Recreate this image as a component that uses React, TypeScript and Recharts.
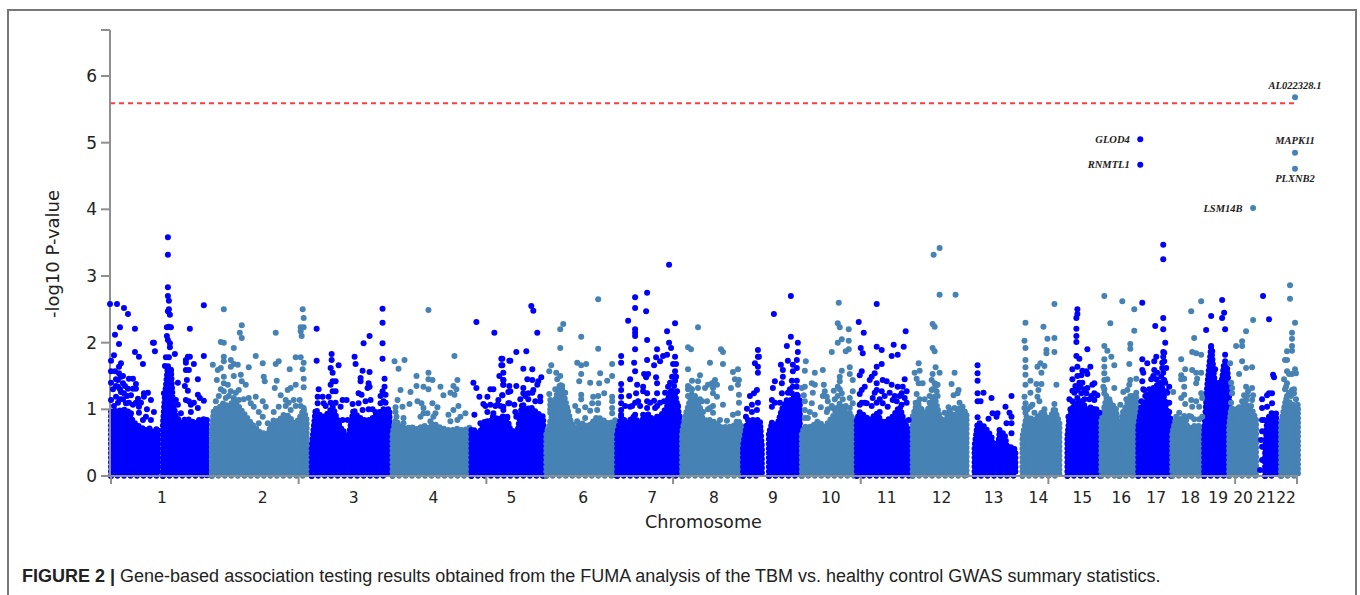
import React from "react";
import { ComposedChart, Area, Line, Scatter, XAxis, YAxis, ReferenceLine, LabelList } from "recharts";

type P = number[];
const BLUE = "#0000ff";
const STEEL = "#4682b4";

// Dense mass envelopes: [genome position, upper -log10 P]
const mass: { color: string; pts: P[] }[] = [
  { color: BLUE, pts: [[0,.97],[8,.98],[15,1.0],[18,.95],[22,.82],[26,.76],[30,.74],[34,.68],[38,.72],[42,.66],[47,.72]] },
  { color: BLUE, pts: [[52,.78],[54,1.2],[57,1.65],[60,1.6],[62,1.1],[65,.9],[70,.8],[75,.86],[80,.84],[84,.78],[88,.84],[96,.86]] },
  { color: STEEL, pts: [[101,.68],[103,1.0],[108,1.02],[113,1.1],[118,1.02],[123,1.15],[130,1.0],[135,.9],[140,.8],[145,.72],[150,.64],[157,.64],[163,.84],[168,.82],[173,.92],[178,.9],[183,.8],[188,.84],[193,1.0],[196,.84]] },
  { color: BLUE, pts: [[201,.44],[205,1.0],[209,.92],[213,.89],[218,.95],[222,1.04],[228,.79],[233,.64],[238,.59],[243,1.0],[247,.89],[254,.84],[260,.84],[267,.94],[273,1.0],[279,1.0]] },
  { color: STEEL, pts: [[282,.64],[285,.84],[290,.74],[295,.7],[300,.74],[307,.7],[313,.76],[318,.72],[323,.79],[328,.74],[333,.71],[340,.68],[347,.71],[353,.68],[359,.73]] },
  { color: BLUE, pts: [[361,.71],[369,.64],[375,.84],[379,.8],[383,.9],[388,.84],[392,.9],[398,.8],[400,.69],[407,.65],[412,1.09],[416,.98],[420,1.04],[427,.94],[433,.89]] },
  { color: STEEL, pts: [[436,.64],[440,.79],[445,1.14],[450,1.39],[455,1.14],[460,.84],[465,.71],[472,.79],[478,.74],[483,.82],[487,.89],[493,.84],[499,.78],[505,.84]] },
  { color: BLUE, pts: [[507,.64],[511,.89],[517,.79],[523,.89],[530,.79],[537,.94],[543,.84],[550,.89],[557,1.04],[560,1.29],[565,1.24],[570,.84]] },
  { color: STEEL, pts: [[572,.64],[575,.89],[582,1.24],[588,1.09],[593,.84],[600,.84],[607,.79],[612,.72],[617,.74],[623,.74],[628,.84],[632,.74]] },
  { color: BLUE, pts: [[633,.44],[637,.79],[643,.84],[650,.84],[652,.44]] },
  { color: BLUE, pts: [[659,.64],[662,.79],[667,.74],[672,1.0],[677,1.14],[683,1.14],[690,1.14]] },
  { color: STEEL, pts: [[692,.64],[695,.74],[702,.74],[708,.82],[715,.74],[723,.89],[730,1.09],[737,.94],[746,.84]] },
  { color: BLUE, pts: [[747,.84],[750,.96],[755,.9],[760,.84],[767,.94],[773,.79],[778,.84],[783,.89],[790,1.04],[795,.79],[802,.64]] },
  { color: STEEL, pts: [[803,.89],[808,1.12],[813,.89],[820,1.04],[825,1.19],[830,.89],[835,.74],[840,1.0],[845,.84],[850,1.04],[857,.94]] },
  { color: BLUE, pts: [[865,.44],[868,.79],[875,.74],[882,.59],[886,.12],[890,.64],[895,.64],[898,.39],[902,.44],[906,.39]] },
  { color: STEEL, pts: [[913,.59],[917,.89],[925,.84],[933,.96],[940,.84],[945,1.02],[950,.79]] },
  { color: BLUE, pts: [[958,.59],[960,.89],[965,1.09],[972,1.14],[977,1.0],[983,1.04],[988,.89],[992,.84]] },
  { color: STEEL, pts: [[992,.84],[997,1.16],[1002,1.09],[1007,1.0],[1008,.54]] },
  { color: STEEL, pts: [[1010,.44],[1013,.94],[1020,1.14],[1027,1.14],[1028,.84]] },
  { color: BLUE, pts: [[1029,.74],[1032,1.04],[1038,1.14],[1045,1.34],[1052,1.39],[1058,.94],[1062,.84]] },
  { color: STEEL, pts: [[1063,.64],[1067,.89],[1073,.84],[1080,.72],[1087,.76],[1093,.74]] },
  { color: BLUE, pts: [[1095,.64],[1098,1.34],[1102,1.94],[1105,1.49],[1108,1.19],[1112,1.34],[1115,1.69],[1118,1.64],[1120,1.24]] },
  { color: STEEL, pts: [[1120,.74],[1122,1.02],[1128,.96],[1137,1.07],[1143,.99],[1147,.84]] },
  { color: BLUE, pts: [[1156,.34],[1158,.84],[1162,.94],[1167,.94],[1168,.34]] },
  { color: STEEL, pts: [[1172,.79],[1177,1.16],[1183,1.07],[1189,1.07]] },
];

// Individually visible genes above the dense mass: [genome position, -log10 P]
const bluePoints: P[] = [
  // chr 1
  [-1,2.58],[6,2.58],[13,2.52],[17,2.43],[9,2.23],[4,2.12],[24,2.21],[8,1.98],[43,2.0],[42,2.0],[44,1.87],[24,1.86],[28,1.79],[32,1.68],[3,1.81],[0,1.73],[10,1.69],[0,1.57],[4,1.57],[0,1.4],[8,1.64],[8,1.54],[10,1.49],[7,1.44],[7,1.34],[12,1.39],[18,1.46],[22,1.46],[25,1.38],[22,1.31],[17,1.31],[25,1.31],[20,1.21],[13,1.24],[10,1.26],[27,1.16],[28,1.04],[33,1.24],[37,1.25],[40,1.14],[33,1.19],[43,.96],[35,.89],[32,.84],[40,.84],[0,1.14],[5,1.19],[15,1.09],[22,1.07],[20,.94],
  [2,1.3],[5,1.35],[5,1.45],[9,1.3],[9,1.15],[12,1.15],[12,1.5],[3,1.05],[7,1.1],[16,1.2],[14,1.35],[18,1.1],[25,1.1],[30,1.1],[36,1.0],[28,.95],
  [57,3.58],[57,3.32],[57,2.83],[57,2.7],[58,2.63],[58,2.5],[59,2.42],[57,2.47],[58,2.24],[56,2.23],[60,2.23],[79,2.21],[93,2.56],[56,2.1],[57,2.04],[59,1.99],[59,1.93],[64,1.83],[93,1.8],[77,1.79],[79,1.79],[75,1.74],[75,1.7],[83,1.68],[55,1.78],[58,1.78],[54,1.65],[60,1.58],[75,1.59],[78,1.59],[76,1.44],[87,1.45],[67,1.4],[74,1.35],[77,1.28],[87,1.22],[93,1.13],[89,1.17],[65,1.14],[75,1.14],[78,1.12],[83,1.1],[87,1.02],[80,1.07],[67,1.07],[70,.94],[80,.96],[53,1.24],
  // chr 3
  [206,2.21],[272,2.51],[272,2.3],[259,2.1],[253,1.99],[272,1.99],[272,1.76],[206,1.73],[221,1.83],[221,1.74],[244,1.79],[245,1.68],[228,1.66],[220,1.62],[222,1.55],[252,1.58],[259,1.56],[274,1.46],[250,1.47],[250,1.42],[222,1.42],[225,1.42],[220,1.37],[258,1.39],[259,1.34],[257,1.32],[274,1.34],[272,1.27],[275,1.22],[208,1.3],[248,1.24],[251,1.22],[222,1.27],[225,1.27],[207,1.19],[212,1.19],[213,1.09],[218,1.19],[207,1.09],[232,1.14],[236,1.14],[230,1.04],[242,1.08],[248,1.09],[260,1.14],[255,1.12],[273,1.12],[270,1.09],[232,.84],[237,.84],[233,.67],[235,.54],[252,.99],[265,.96],[262,.79],
  [215,1.05],[225,1.1],[220,1.1],[270,1.2],[275,1.1],[262,1.0],[258,1.0],
  // chr 5
  [366,2.31],[384,2.15],[391,1.76],[399,1.73],[363,1.4],[366,1.32],[391,1.66],[389,1.5],[393,1.44],[393,1.37],[369,1.19],[380,1.3],[383,1.3],[377,1.19],[392,1.21],[388,1.14],[364,.92],[373,1.08],[380,1.07],[387,1.07],[393,1.04],[398,1.26],[398,1.09],[370,.79],[397,.89],[377,.96],[383,.94],
  [421,2.55],[423,2.48],[427,2.15],[406,1.86],[416,1.87],[392,1.76],[400,1.73],[392,1.66],[413,1.61],[422,1.6],[393,1.55],[393,1.44],[417,1.45],[422,1.44],[431,1.48],[428,1.42],[393,1.37],[399,1.35],[406,1.35],[413,1.32],[427,1.37],[423,1.29],[413,1.24],[430,1.19],[430,1.12],[400,1.27],[392,1.21],[399,1.09],[404,1.07],[405,.96],[393,.99],[397,.87],[406,.89],[418,1.24],
  [415,1.2],[418,1.15],[425,1.12],[410,1.15],[422,1.25],[390,1.05],[385,1.05],[375,1.05],
  // chr 7
  [559,3.17],[537,2.75],[525,2.68],[525,2.52],[536,2.47],[518,2.33],[565,2.29],[525,2.2],[525,2.15],[525,2.1],[557,2.17],[537,2.04],[559,2.0],[561,1.92],[525,1.9],[547,1.9],[565,1.79],[557,1.82],[553,1.8],[546,1.78],[537,1.74],[524,1.7],[511,1.8],[511,1.7],[550,1.72],[544,1.66],[563,1.68],[566,1.68],[525,1.57],[534,1.53],[538,1.53],[565,1.57],[566,1.49],[562,1.49],[520,1.45],[536,1.48],[546,1.48],[511,1.38],[527,1.37],[533,1.34],[547,1.39],[565,1.43],[511,1.29],[511,1.19],[519,1.2],[526,1.24],[533,1.27],[537,1.24],[547,1.24],[558,1.34],[567,1.27],[562,1.27],[511,1.09],[520,1.04],[528,1.12],[537,1.12],[544,1.13],[554,1.12],[511,.99],[537,1.02],[545,1.02],[525,.92],[511,.92],[533,.92],[547,.89],
  [525,1.1],[530,1.05],[540,1.1],[550,1.1],[555,1.25],[560,1.4],[564,1.35],[568,1.05],[515,1.05],[522,1.05],[547,1.05],[558,1.15],
  // chr 9
  [648,1.89],[648,1.79],[649,1.79],[645,1.69],[648,1.64],[648,1.55],[647,1.29],[640,1.2],[644,1.24],[648,1.1],[637,1.01],[642,1.07],[647,.99],[642,.96],[636,.89],[638,.84],
  [681,2.7],[664,2.43],[681,2.09],[688,2.0],[677,1.95],[688,1.86],[687,1.74],[678,1.73],[671,1.67],[683,1.67],[687,1.62],[673,1.59],[683,1.57],[673,1.49],[665,1.42],[672,1.39],[682,1.43],[687,1.43],[663,1.32],[687,1.34],[683,1.34],[682,1.24],[672,1.24],[687,1.22],[662,1.14],[665,1.1],[662,1.04],[675,.99],[662,.8],[669,.82],[673,.94],
  [670,1.1],[678,1.25],[684,1.2],[688,1.2],[680,1.3],
  // chr 11
  [767,2.58],[749,2.31],[754,2.15],[796,2.17],[751,1.92],[753,1.84],[767,1.94],[772,1.89],[784,1.97],[794,1.94],[788,1.82],[782,1.8],[772,1.68],[767,1.64],[752,1.57],[750,1.51],[765,1.54],[762,1.49],[760,1.44],[767,1.39],[773,1.44],[777,1.42],[795,1.45],[782,1.37],[788,1.34],[793,1.34],[755,1.34],[752,1.29],[750,1.23],[767,1.29],[772,1.27],[797,1.27],[792,1.24],[763,1.17],[783,1.14],[787,1.12],[795,1.17],[757,1.09],[773,1.09],[778,1.04],[750,1.07],[792,1.07],[799,.84],[787,.94],[770,.96],
  [755,1.1],[762,1.05],[767,1.1],[775,1.2],[780,1.25],[785,1.2],[790,1.2],[797,1.1],[765,1.25],[752,1.1],[770,1.15],
  // chr 13
  [868,1.66],[868,1.54],[868,1.43],[868,1.24],[874,1.25],[882,1.17],[902,1.2],[868,1.12],[871,1.12],[896,1.04],[883,.94],[888,.94],[887,.89],[900,.95],[902,.89],[879,.86],[868,.88],[902,.79],[890,.69],[902,.64],[897,.79],[870,.79],[888,.49],[888,.34],[890,.27],
  // chr 15
  [968,2.5],[968,2.43],[967,2.37],[967,2.21],[967,2.1],[967,2.01],[978,1.9],[967,1.8],[970,1.76],[981,1.64],[963,1.6],[968,1.64],[973,1.58],[977,1.57],[972,1.51],[978,1.53],[973,1.4],[985,1.39],[978,1.32],[983,1.37],[963,1.28],[968,1.29],[972,1.24],[985,1.24],[988,1.21],[977,1.24],[963,1.12],[968,1.17],[985,1.14],[965,1.02],[972,1.09],[959,.89],
  [963,1.45],[966,1.35],[970,1.4],[975,1.3],[968,1.5],[961,1.0],[975,1.15],[980,1.15],[965,1.25],[971,1.33],[982,1.2],[987,1.0],[990,.95],[960,1.15],
  // chr 17
  [1054,3.47],[1054,3.25],[1033,2.6],[1054,2.37],[1046,2.25],[1054,2.2],[1056,2.0],[1054,1.86],[1054,1.79],[1047,1.79],[1033,1.75],[1038,1.69],[1055,1.72],[1033,1.59],[1045,1.72],[1045,1.59],[1053,1.62],[1057,1.62],[1047,1.45],[1033,1.42],[1055,1.44],[1052,1.49],[1035,1.29],[1060,1.34],[1038,1.22],[1057,1.27],[1032,1.12],[1060,.96],
  [1034,1.3],[1036,1.2],[1040,1.3],[1042,1.45],[1044,1.5],[1048,1.55],[1050,1.4],[1054,1.55],[1056,1.4],[1058,1.25],[1058,1.1],[1060,1.1],[1034,1.55],[1053,1.7],[1055,1.85],
  // chr 19
  [1113,2.64],[1115,2.45],[1113,2.37],[1102,2.4],[1097,2.19],[1116,2.2],[1102,1.95],[1116,1.82],[1103,1.87],
  [1100,1.5],[1103,1.7],[1102,1.8],[1101,1.6],[1106,1.6],[1108,1.35],[1110,1.4],[1113,1.45],[1115,1.6],[1117,1.55],[1116,1.72],[1104,1.3],[1099,1.2],
  // chr 21
  [1154,2.7],[1160,2.35],[1164,1.52],[1165,1.48],[1160,1.24],[1163,1.24],[1158,1.21],[1153,1.15],[1158,1.04],[1163,1.09],[1153,1.02],[1153,.84],[1153,.67],[1152,.54],[1153,.44],[1153,.24],[1151,.09],[1155,.84],
];

const steelPoints: P[] = [
  // chr 2
  [113,2.5],[131,2.26],[129,2.15],[131,2.07],[165,2.15],[192,2.5],[193,2.37],[190,2.23],[193,2.23],[190,2.17],[191,2.1],[110,2.01],[113,2.0],[123,1.92],[145,1.8],[113,1.79],[113,1.72],[120,1.74],[102,1.67],[107,1.59],[110,1.62],[120,1.64],[123,1.68],[127,1.67],[138,1.63],[152,1.69],[165,1.68],[168,1.72],[179,1.6],[185,1.78],[190,1.78],[193,1.7],[192,1.6],[193,1.46],[193,1.33],[185,1.37],[106,1.44],[113,1.49],[123,1.5],[130,1.52],[131,1.42],[135,1.37],[153,1.49],[154,1.42],[166,1.43],[164,1.32],[180,1.32],[177,1.29],[113,1.39],[117,1.37],[113,1.27],[120,1.27],[128,1.29],[138,1.17],[145,1.19],[152,1.12],[140,1.09],[143,1.04],[155,1.04],[163,.96],[148,.96],[152,.89],[148,.79],[157,.79],[170,1.21],[175,1.14],[168,1.04],[183,1.14],[189,1.14],[193,1.02],[193,.89],[180,.99],[105,1.12],[115,1.17],[123,1.17],[128,1.14],
  [108,1.2],[118,1.2],[125,1.25],[133,1.15],[110,1.3],[125,1.1],[175,1.05],[178,1.1],[185,1.05],[190,1.05],
  // chr 4
  [318,2.49],[344,1.8],[284,1.72],[294,1.74],[288,1.61],[318,1.55],[318,1.45],[322,1.44],[306,1.5],[347,1.44],[306,1.35],[313,1.34],[318,1.3],[330,1.34],[343,1.35],[346,1.3],[290,1.29],[300,1.26],[340,1.25],[344,1.22],[333,1.21],[287,1.14],[285,1.03],[292,1.04],[299,1.08],[307,1.12],[311,1.09],[322,1.09],[327,1.03],[348,1.05],[313,1.02],[313,.94],[317,.94],[310,.89],[325,.94],[323,.89],[343,.99],[338,.92],[355,.94],[350,.89],[347,.84],[320,.82],[340,.82],[286,.89],[293,.87],[285,.96],[293,.79],
  // chr 6
  [488,2.65],[453,2.28],[450,2.2],[471,2.09],[450,1.92],[488,1.91],[467,1.7],[471,1.66],[476,1.68],[502,1.68],[441,1.66],[439,1.57],[446,1.55],[471,1.53],[490,1.54],[502,1.5],[469,1.42],[480,1.4],[489,1.39],[497,1.43],[494,1.24],[455,1.25],[439,1.23],[471,1.22],[471,1.15],[502,1.19],[502,1.12],[483,1.19],[488,1.2],[482,1.09],[488,1.09],[440,1.14],[440,1.07],[465,1.05],[468,.98],[475,1.03],[480,.98],[487,.99],[502,1.02],[440,.95],[440,.82],[502,.94],[475,.87],[467,.82],
  [445,1.3],[447,1.45],[450,1.5],[452,1.35],[440,1.0],[457,1.0],
  // chr 8
  [588,2.23],[578,1.93],[581,1.9],[611,1.9],[613,1.86],[600,1.7],[613,1.68],[628,1.6],[623,1.56],[578,1.6],[590,1.51],[625,1.45],[629,1.44],[582,1.43],[588,1.42],[605,1.44],[602,1.39],[598,1.37],[607,1.37],[578,1.35],[580,1.32],[588,1.32],[595,1.32],[603,1.32],[621,1.32],[628,1.37],[603,1.24],[607,1.19],[629,1.22],[629,1.1],[613,1.07],[592,1.12],[597,1.12],[590,1.02],[600,1.02],[603,.95],[628,.94],[623,.92],[593,.96],[610,.84],[617,.83],
  [578,1.3],[582,1.3],[585,1.2],[590,1.15],[578,1.2],[598,1.0],[603,1.05],
  // chr 10
  [729,2.6],[728,2.29],[730,2.23],[739,2.2],[732,2.05],[728,2.0],[739,2.03],[739,1.9],[736,1.87],[722,1.86],[696,1.72],[695,1.58],[705,1.55],[713,1.59],[732,1.58],[740,1.63],[740,1.53],[743,1.44],[730,1.49],[730,1.42],[728,1.34],[702,1.39],[705,1.37],[714,1.37],[695,1.34],[692,1.32],[703,1.25],[715,1.27],[724,1.28],[743,1.27],[694,1.21],[713,1.2],[717,1.19],[732,1.24],[740,1.17],[695,1.12],[702,1.09],[718,1.12],[711,1.03],[723,1.02],[740,1.02],[743,1.09],[695,.99],[700,.96],[705,.92],[717,.96],[740,.94],[695,.87],[698,.87],
  [725,1.15],[730,1.3],[728,1.2],[733,1.15],[736,1.05],[722,1.05],[718,1.0],
  // chr 12
  [830,3.42],[824,3.32],[830,2.72],[846,2.72],[823,2.28],[825,2.24],[823,1.92],[825,1.87],[826,1.63],[830,1.55],[809,1.69],[805,1.55],[810,1.58],[807,1.46],[823,1.53],[809,1.39],[813,1.39],[822,1.44],[825,1.39],[828,1.37],[845,1.55],[842,1.38],[849,1.29],[822,1.29],[827,1.27],[807,1.23],[844,1.21],[848,1.24],[815,1.15],[839,1.03],[850,1.1],[835,.95],[845,1.02],[853,1.04],[855,.96],[833,.84],[843,.89],[848,.89],
  [823,1.3],[826,1.35],[820,1.2],[828,1.2],[810,1.15],[806,1.1],[812,1.0],[820,1.1],
  // chr 14
  [945,2.58],[916,2.3],[934,2.24],[915,2.03],[916,1.92],[938,2.06],[945,2.07],[937,1.89],[937,1.84],[945,1.86],[916,1.74],[916,1.63],[931,1.69],[928,1.64],[935,1.65],[932,1.55],[916,1.52],[921,1.43],[916,1.37],[927,1.38],[932,1.38],[947,1.37],[929,1.29],[921,1.25],[915,1.19],[928,1.19],[930,1.12],[916,1.09],[923,1.07],[915,1.02],[921,1.04],
  [918,1.0],[916,.95],[935,1.0],[945,1.08],[925,.95],
  // chr 16
  [995,2.7],[1013,2.62],[1001,2.29],[1025,2.5],[1025,2.18],[1021,1.98],[1021,1.91],[995,1.95],[998,1.88],[1002,1.79],[995,1.75],[1005,1.66],[995,1.64],[995,1.54],[1020,1.68],[998,1.45],[995,1.44],[1021,1.44],[1027,1.46],[1020,1.37],[1005,1.32],[1018,1.29],[1014,1.26],[994,1.34],[1027,1.18],[1011,1.07],[995,1.24],
  [995,1.3],[997,1.2],[1000,1.15],[1021,1.2],[1024,1.2],[1017,1.15],[1027,1.25],
  // chr 18
  [1092,2.62],[1082,2.47],[1085,2.07],[1083,1.86],[1087,1.84],[1092,1.82],[1072,1.75],[1076,1.6],[1083,1.59],[1087,1.55],[1092,1.55],[1072,1.51],[1075,1.46],[1072,1.45],[1088,1.46],[1087,1.39],[1075,1.34],[1064,1.26],[1092,1.24],[1075,1.22],[1072,1.17],[1093,1.17],[1076,1.08],[1082,1.14],[1087,1.12],[1083,1.04],[1090,1.04],[1093,.89],[1082,.89],[1077,.84],
  [1070,.95],[1075,.9],[1090,.85],[1085,.85],[1080,.9],
  // chr 20
  [1144,2.34],[1137,2.17],[1133,2.02],[1127,1.95],[1133,1.95],[1121,1.69],[1133,1.72],[1143,1.63],[1137,1.62],[1130,1.53],[1122,1.4],[1123,1.32],[1123,1.24],[1137,1.34],[1143,1.32],[1139,1.27],[1135,1.21],[1144,1.21],[1133,1.12],[1143,1.14],[1130,1.03],[1137,1.14],
  [1122,1.1],[1138,1.2],[1134,1.1],[1142,1.05],[1127,1.0],
  // chr 22
  [1181,2.86],[1181,2.66],[1186,2.3],[1183,2.15],[1183,2.06],[1183,1.95],[1178,1.87],[1183,1.88],[1176,1.74],[1178,1.74],[1186,1.6],[1178,1.57],[1175,1.45],[1183,1.53],[1187,1.54],[1178,1.39],[1183,1.29],[1185,1.24],[1177,1.34],[1180,1.53],
  [1176,1.3],[1180,1.25],[1182,1.2],[1187,1.15],[1178,1.2],[1185,1.3],
];

const hitsLeftBlue = [
  { x: 1031, y: 5.05, gene: "GLOD4" },
  { x: 1031, y: 4.67, gene: "RNMTL1" },
];
const hitsLeftSteel = [{ x: 1144, y: 4.02, gene: "LSM14B" }];
const hitsAbove = [
  { x: 1186, y: 5.68, gene: "AL022328.1" },
  { x: 1186, y: 4.85, gene: "MAPK11" },
];
const hitsBelow = [{ x: 1186, y: 4.61, gene: "PLXNB2" }];

const THRESHOLD = 5.59;
const Y_MAX = 6.69;
const X_MAX = 1188;
const yTicks = [0, 1, 2, 3, 4, 5, 6, Y_MAX];
const xMarks = [0, 188, 376, 563, 751, 939, 1126, X_MAX];
const chromLabels = ["1","2","3","4","5","6","7","8","9","10","11","12","13","14","15","16","17","18","19","20","21","22"];
const chromCentres = [51,152,243,323,401,473,542,604,663,721,777,832,884,929,973,1012,1047,1081,1109,1134,1157,1177];

const toRows = (pts: P[]) => pts.map(([x, y]) => ({ x, y }));
const massRows = (pts: P[]) => [
  { x: pts[0][0], y: 0 },
  ...toRows(pts),
  { x: pts[pts.length - 1][0], y: 0 },
];
const floorRows = (pts: P[]) => [
  { x: pts[0][0], y: 0 },
  { x: pts[pts.length - 1][0], y: 0 },
];

const dot = (color: string) => (p: any) => <circle cx={p.cx} cy={p.cy} r={3} fill={color} />;

const labelStyle = {
  fontFamily: "'Liberation Serif', serif",
  fontStyle: "italic",
  fontWeight: 700,
  fontSize: 10.5,
  fill: "#222",
} as const;

const GRAY = "#8f8f8f";
const FONT = "'DejaVu Sans', sans-serif";

const XTick = (p: any) => {
  const v = p.payload.value;
  if (xMarks.includes(v)) {
    return <line x1={p.x} x2={p.x} y1={p.y} y2={p.y + 8} stroke={GRAY} strokeWidth={2} />;
  }
  return (
    <text x={p.x} y={p.y + 27} textAnchor="middle" fontFamily={FONT} fontSize={15.5} fill="#222">
      {chromLabels[chromCentres.indexOf(v)]}
    </text>
  );
};

export default function App() {
  return (
    <div style={{ position: "absolute", left: 0, top: 0, width: 1360, height: 595, background: "#fff", overflow: "hidden" }}>
      <div style={{ position: "absolute", left: 7, top: 9, width: 1350, height: 600, border: "2px solid #777", boxSizing: "border-box" }} />
      <ComposedChart
        width={1360}
        height={595}
        style={{ position: "absolute", left: 0, top: 0 }}
        margin={{ top: 30, right: 62, bottom: 79, left: 50 }}
      >
        <XAxis
          dataKey="x"
          type="number"
          domain={[0, X_MAX]}
          ticks={[...xMarks, ...chromCentres]}
          interval={0}
          height={40}
          tick={<XTick />}
          tickLine={false}
          tickSize={0}
          tickMargin={0}
          stroke={GRAY}
          strokeWidth={2}
        />
        <YAxis
          dataKey="y"
          type="number"
          domain={[0, Y_MAX]}
          ticks={yTicks}
          interval={0}
          width={60}
          tickSize={9}
          tickMargin={4}
          stroke={GRAY}
          strokeWidth={2}
          tick={{ fontFamily: FONT, fontSize: 17, fill: "#222" }}
          tickFormatter={(v: number) => (Number.isInteger(v) ? String(v) : "")}
        />
        {mass.map((m, i) => (
          <Area
            key={"m" + i}
            data={massRows(m.pts)}
            dataKey="y"
            type="linear"
            fill={m.color}
            fillOpacity={1}
            stroke={m.color}
            strokeWidth={6}
            strokeLinecap="round"
            strokeDasharray="0 4.6"
            dot={false}
            activeDot={false}
            isAnimationActive={false}
          />
        ))}
        {mass.map((m, i) => (
          <Line
            key={"f" + i}
            data={floorRows(m.pts)}
            dataKey="y"
            type="linear"
            stroke={m.color}
            strokeWidth={5.5}
            strokeLinecap="round"
            strokeDasharray="0 6.5"
            dot={false}
            activeDot={false}
            isAnimationActive={false}
          />
        ))}
        <Scatter data={toRows(bluePoints)} shape={dot(BLUE)} isAnimationActive={false} />
        <Scatter data={toRows(steelPoints)} shape={dot(STEEL)} isAnimationActive={false} />
        <Scatter data={hitsLeftBlue} shape={dot(BLUE)} isAnimationActive={false}>
          <LabelList dataKey="gene" position="left" offset={6} style={labelStyle} />
        </Scatter>
        <Scatter data={hitsLeftSteel} shape={dot(STEEL)} isAnimationActive={false}>
          <LabelList dataKey="gene" position="left" offset={6} style={labelStyle} />
        </Scatter>
        <Scatter data={hitsAbove} shape={dot(STEEL)} isAnimationActive={false}>
          <LabelList dataKey="gene" position="top" offset={4} style={labelStyle} />
        </Scatter>
        <Scatter data={hitsBelow} shape={dot(STEEL)} isAnimationActive={false}>
          <LabelList dataKey="gene" position="bottom" offset={1} style={labelStyle} />
        </Scatter>
        <ReferenceLine y={THRESHOLD} stroke="#ff3b3b" strokeWidth={2} strokeDasharray="5 4" />
        <ReferenceLine y={0} stroke={GRAY} strokeWidth={2} />
      </ComposedChart>
      <div style={{ position: "absolute", left: 645, top: 512, fontFamily: FONT, fontSize: 17.6, color: "#222", whiteSpace: "nowrap" }}>
        Chromosome
      </div>
      <div style={{ position: "absolute", left: 52, top: 254, transform: "translate(-50%,-50%) rotate(-90deg)", fontFamily: FONT, fontSize: 18, color: "#222", whiteSpace: "nowrap" }}>
        -log10 P-value
      </div>
      <div style={{ position: "absolute", left: 22, top: 566, fontFamily: "'Liberation Sans', sans-serif", fontSize: 18, color: "#222", whiteSpace: "nowrap" }}>
        <b>FIGURE 2 | </b>Gene-based association testing results obtained from the FUMA analysis of the TBM vs. healthy control GWAS summary statistics.
      </div>
    </div>
  );
}
